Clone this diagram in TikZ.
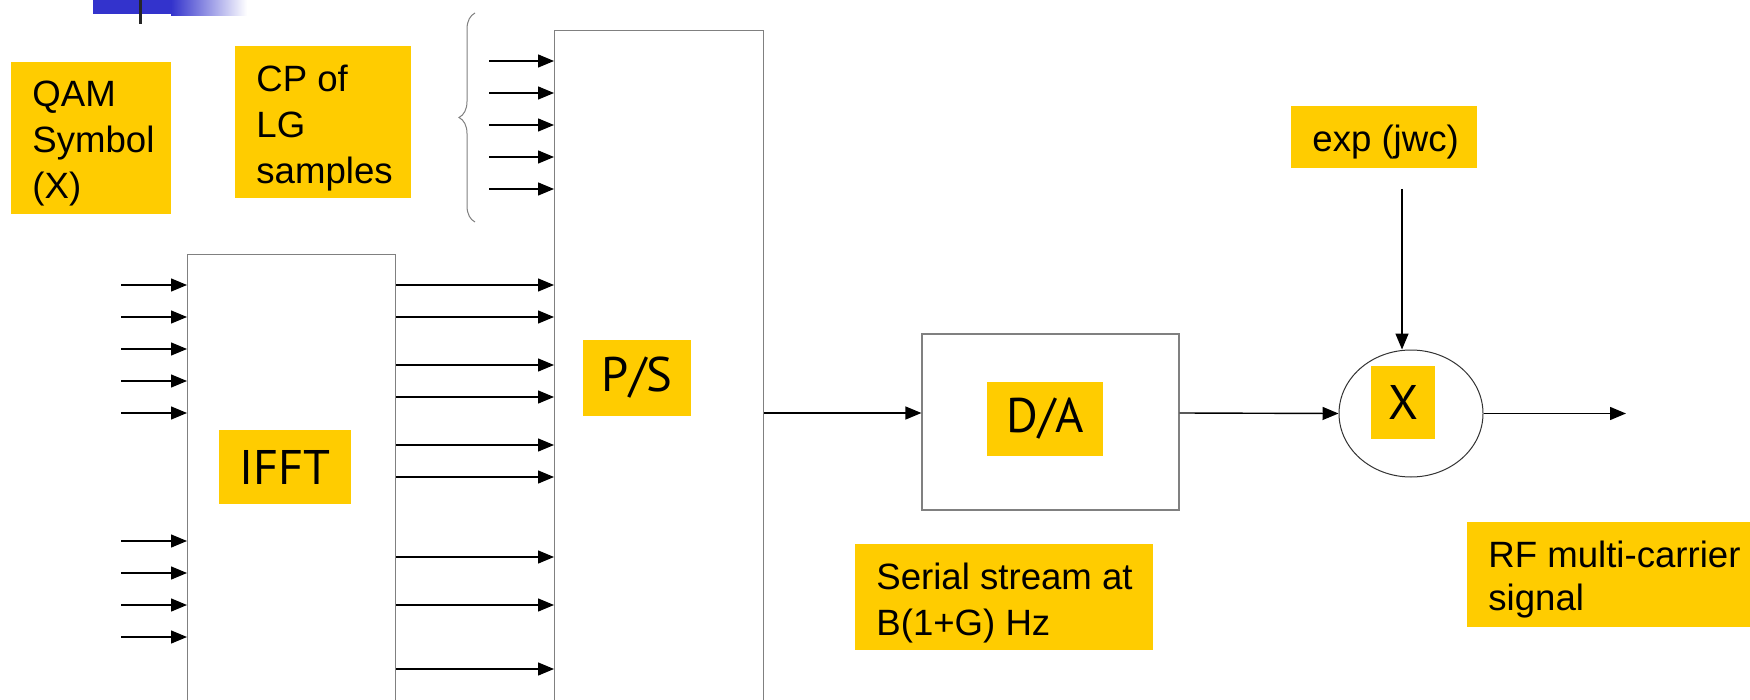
\documentclass[tikz,border=0pt]{standalone}
\usepackage{fontspec}
\setmainfont{Liberation Sans}
\newfontfamily\labfont{PT Sans}
\usetikzlibrary{arrows.meta,shapes.geometric,decorations.pathreplacing}
\definecolor{yel}{HTML}{FFCC00}
\definecolor{boxgray}{HTML}{808080}
\definecolor{tplblue}{HTML}{3333CC}
\begin{document}
\begin{tikzpicture}[x=0.5pt,y=-0.5pt,
  arr/.style={draw=black, line width=0.7pt, -{Triangle[length=8pt,width=6.5pt]}},
  block/.style={draw=boxgray, line width=0.6pt, fill=white, inner sep=0pt},
  ybox/.style={fill=yel, inner sep=0pt, anchor=north west},
  lab/.style={fill=yel, inner sep=0pt, font=\labfont\fontsize{24.3pt}{29pt}\selectfont},
  txt/.style={inner sep=0pt, align=left, anchor=north west, font=\fontsize{18.3pt}{22.8pt}\selectfont}]
\clip (0,0) rectangle (1750,700);
\fill[white] (0,0) rectangle (1750,700);

% template decoration
\fill[tplblue] (93,0) rectangle (171,14);
\shade[left color=tplblue, right color=white] (171,0) rectangle (247,16);
\fill[black!85] (139,0) rectangle (142,24);

% blocks
\node[block, anchor=north west, minimum width=104pt, minimum height=260pt] (ifft) at (187,254) {};
\node[block, anchor=north west, minimum width=104.5pt, minimum height=375pt] (ps) at (554,30) {};
\node[block, minimum width=128.5pt, minimum height=88pt] (da) at (1050.5,422) {};
\node[draw=black!80, line width=0.5pt, ellipse, minimum width=72pt, minimum height=63.5pt, inner sep=0pt] (mix) at (1411,413.5) {};

% block labels
\node[lab, minimum width=66pt, minimum height=37pt] (ifftl) at (285,467) {IFFT};
\node[lab, minimum width=54pt, minimum height=38pt] (psl) at (637,378) {P/S};
\node[lab, minimum width=58pt, minimum height=37pt] (dal) at (1045,419) {D/A};
\node[lab, minimum width=32pt, minimum height=36.5pt] (mixl) at (1403,402.5) {X};

% yellow text boxes
\node[ybox, minimum width=80pt, minimum height=76pt] (qambox) at (11,62) {};
\node[ybox, minimum width=88pt, minimum height=76pt] (cpbox) at (235,46) {};
\node[ybox, minimum width=93pt, minimum height=31pt] (expbox) at (1291,106) {};
\node[ybox, minimum width=149pt, minimum height=53pt] (serbox) at (855,544) {};
\node[ybox, minimum width=146.5pt, minimum height=52.5pt] (rfbox) at (1467,522) {};

\node[txt] (qam) at (32,81) {QAM\\Symbol\\(X)};
\node[txt] (cp) at (256,65) {CP of\\LG\\samples};
\node[txt] (exp) at (1312,125) {exp (jwc)};
\node[txt] (ser) at (876,563) {Serial stream at\\B(1+G) Hz};
\node[txt, font=\fontsize{18.3pt}{21.5pt}\selectfont] (rf) at (1488,541) {RF multi-carrier\\signal};

% brace
\draw[boxgray, line width=0.5pt, decorate, decoration={brace, amplitude=8pt}] (475,222) -- (475,13);

% inputs to IFFT
\foreach \y [count=\i] in {285,317,349,381,413,541,573,605,637} {
  \coordinate (qin\i) at (121,\y);
  \draw[arr] (qin\i) -- (qin\i -| ifft.west);
}
% IFFT to P/S
\foreach \y [count=\i] in {285,317,365,397,445,477,557,605,669} {
  \coordinate (row\i) at (0,\y);
  \draw[arr] (ifft.east |- row\i) -- (ps.west |- row\i);
}
% CP inputs
\foreach \y [count=\i] in {61,93,125,157,189} {
  \coordinate (cpin\i) at (489,\y);
  \draw[arr] (cpin\i) -- (cpin\i -| ps.west);
}

% serial chain
\coordinate (sig) at (0,413);
\draw[arr] (ps.east |- sig) -- (da.west |- sig);
\draw[arr] (da.east |- sig) -- (mix.west);
\coordinate (rfout) at (1626,413.5);
\draw[arr] (mix.east) -- (rfout);
\coordinate (lo) at (1402,189);
\draw[arr] (lo) -- (lo |- mix.north);
\end{tikzpicture}
\end{document}
